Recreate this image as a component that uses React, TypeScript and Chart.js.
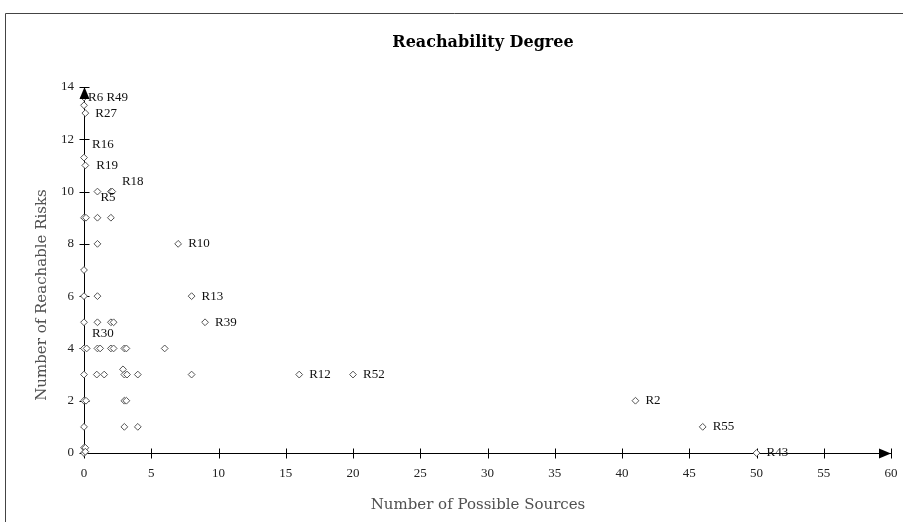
import { useEffect, useRef } from "react";
import { Chart, registerables } from "chart.js";

Chart.register(...registerables);

// ---- data ----
const sources = [
  0, 0, 0.1, 0, 0.1, 1, 2, 2.1,
  0, 0.15, 1, 2,
  1, 7,
  0,
  0, 1, 8,
  0, 1, 2, 2.2, 9,
  0, 0.2, 1, 1.2, 2, 2.2, 3, 3.15, 6,
  0, 0.95, 1.5, 2.9, 3, 3.2, 4, 8, 16, 20,
  0, 0.15, 3, 3.15, 41,
  0, 3, 4, 46,
  0, 0.1, 0, 0.1, 50,
];
const reachable = [
  13.6, 13.3, 13, 11.3, 11, 10, 10, 10,
  9, 9, 9, 9,
  8, 8,
  7,
  6, 6, 6,
  5, 5, 5, 5, 5,
  4, 4, 4, 4, 4, 4, 4, 4, 4,
  3, 3, 3, 3.2, 3, 3, 3, 3, 3, 3,
  2, 2, 2, 2, 2,
  1, 1, 1, 1,
  0.2, 0.2, 0, 0.05, 0,
];
const riskLabels = [
  "R6 R49", "", "R27", "R16", "R19", "R5", "R18", "",
  "", "", "", "",
  "", "R10",
  "",
  "", "", "R13",
  "", "", "", "", "R39",
  "R30", "", "", "", "", "", "", "", "",
  "", "", "", "", "", "", "", "", "R12", "R52",
  "", "", "", "", "R2",
  "", "", "", "R55",
  "", "", "", "", "R43",
];
const xTickValues = [0, 5, 10, 15, 20, 25, 30, 35, 40, 45, 50, 55, 60];
const yTickValues = [0, 2, 4, 6, 8, 10, 12, 14];
const chartTitle = "Reachability Degree";
const xTitle = "Number of Possible Sources";
const yTitle = "Number of Reachable Risks";

// ---- styles: label offsets (pixels) for particular labels ----
const labelOffsets: Record<string, [number, number]> = {
  "R6 R49": [4, 0],
  R16: [8, -13],
  R19: [11, 0],
  R18: [11, -10],
  R5: [3, 6],
  R30: [8, -15],
};

const serif = "'Liberation Serif', serif";
const titleSerif = "'DejaVu Serif', serif";

export default function App() {
  const ref = useRef<HTMLCanvasElement>(null);

  useEffect(() => {
    const canvas = ref.current;
    if (!canvas) return;

    const points = sources.map((x, i) => ({ x, y: reachable[i] }));

    const decorPlugin = {
      id: "decor",
      beforeDraw(chart: any) {
        const ctx = chart.ctx;
        ctx.save();
        ctx.fillStyle = "#fff";
        ctx.fillRect(0, 0, chart.width, chart.height);
        ctx.strokeStyle = "#444";
        ctx.lineWidth = 1;
        ctx.beginPath();
        ctx.moveTo(5.5, chart.height + 2);
        ctx.lineTo(5.5, 13.5);
        ctx.lineTo(chart.width + 2, 13.5);
        ctx.stroke();
        // chart title
        ctx.fillStyle = "#000";
        ctx.font = `bold 16px ${titleSerif}`;
        ctx.textAlign = "center";
        ctx.textBaseline = "middle";
        ctx.fillText(chartTitle, 483, 43);
        // axis titles
        ctx.fillStyle = "#505050";
        ctx.font = `15px ${titleSerif}`;
        ctx.fillText(xTitle, 478, 505);
        ctx.save();
        ctx.translate(42, 295);
        ctx.rotate(-Math.PI / 2);
        ctx.fillText(yTitle, 0, 0);
        ctx.restore();
        ctx.restore();
      },
      beforeDatasetsDraw(chart: any) {
        const { ctx, chartArea, scales } = chart;
        const { left, right, top, bottom } = chartArea;
        ctx.save();
        ctx.strokeStyle = "#000";
        ctx.lineWidth = 1;
        ctx.beginPath();
        const by = Math.round(bottom) + 0.5;
        const lx = Math.round(left) + 0.5;
        ctx.moveTo(left, by);
        ctx.lineTo(right, by);
        ctx.moveTo(lx, top);
        ctx.lineTo(lx, bottom);
        xTickValues.forEach((v) => {
          const px = Math.round(scales.x.getPixelForValue(v)) + 0.5;
          ctx.moveTo(px, by - 5);
          ctx.lineTo(px, by + 5);
        });
        yTickValues.forEach((v) => {
          const py = Math.round(scales.y.getPixelForValue(v)) + 0.5;
          ctx.moveTo(lx - 5, py);
          ctx.lineTo(lx + 5, py);
        });
        ctx.stroke();
        ctx.restore();
      },
      afterDatasetsDraw(chart: any) {
        const { ctx, chartArea, scales } = chart;
        const { right, top, bottom, left } = chartArea;
        ctx.save();
        ctx.fillStyle = "#000";
        const by = Math.round(bottom) + 0.5;
        ctx.beginPath();
        ctx.moveTo(right, by);
        ctx.lineTo(right - 12, by - 5);
        ctx.lineTo(right - 12, by + 5);
        ctx.closePath();
        ctx.fill();
        const lx = Math.round(left) + 0.5;
        ctx.beginPath();
        ctx.moveTo(lx, top);
        ctx.lineTo(lx - 5, top + 12);
        ctx.lineTo(lx + 5, top + 12);
        ctx.closePath();
        ctx.fill();
        ctx.font = `13px ${serif}`;
        ctx.fillStyle = "#111";
        ctx.textAlign = "left";
        ctx.textBaseline = "middle";
        riskLabels.forEach((lab, i) => {
          if (!lab) return;
          const px = scales.x.getPixelForValue(sources[i]);
          const py = scales.y.getPixelForValue(reachable[i]);
          const [dx, dy] = labelOffsets[lab] || [10, 0];
          ctx.fillText(lab, px + dx, py + dy);
        });
        ctx.restore();
      },
    };

    const chart = new Chart(canvas, {
      type: "scatter",
      data: {
        datasets: [
          {
            data: points,
            pointStyle: "rectRot",
            pointRadius: 3.4,
            pointBorderWidth: 1,
            pointBorderColor: "#555",
            pointBackgroundColor: "#fff",
            clip: false as any,
          },
        ],
      },
      options: {
        responsive: false,
        animation: false,
        layout: { padding: { left: 0, right: 12, top: 87, bottom: 0 } },
        plugins: {
          legend: { display: false },
          tooltip: { enabled: false },
          title: { display: false },
        },
        scales: {
          x: {
            type: "linear",
            min: 0,
            max: 60,
            grid: { display: false, drawTicks: false },
            border: { display: false },
            afterBuildTicks: (s: any) => {
              s.ticks = xTickValues.map((v) => ({ value: v }));
            },
            afterFit: (s: any) => {
              s.height = 522 - 453;
              s.paddingLeft = 0;
              s.paddingRight = 0;
            },
            ticks: {
              color: "#222",
              font: { family: serif, size: 13 },
              padding: 13,
              maxRotation: 0,
              autoSkip: false,
            },
          },
          y: {
            type: "linear",
            min: 0,
            max: 14,
            grid: { display: false, drawTicks: false },
            border: { display: false },
            afterBuildTicks: (s: any) => {
              s.ticks = yTickValues.map((v) => ({ value: v }));
            },
            afterFit: (s: any) => {
              s.width = 84;
              s.paddingTop = 0;
              s.paddingBottom = 0;
            },
            ticks: {
              color: "#222",
              font: { family: serif, size: 13 },
              padding: 10,
              autoSkip: false,
            },
          },
        },
      },
      plugins: [decorPlugin],
    });

    return () => chart.destroy();
  }, []);

  return (
    <div style={{ position: "fixed", left: 0, top: 0, width: 903, height: 522, background: "#fff" }}>
      <canvas ref={ref} width={903} height={522} style={{ display: "block" }} />
    </div>
  );
}
